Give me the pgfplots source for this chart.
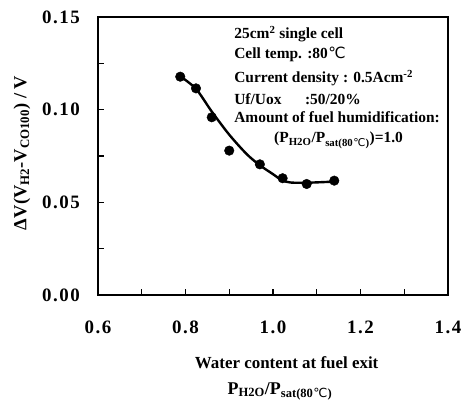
\documentclass[border=0pt]{standalone}
\usepackage{fontspec}
\setmainfont{Liberation Serif}
\newfontfamily\dv{DejaVu Sans}
\newfontfamily\tickfont[LetterSpace=8]{Liberation Serif}
\usepackage{pgfplots}
\pgfplotsset{compat=1.18}
\newcommand{\degC}{{\dv\mdseries\kern0.5pt ℃}}
\begin{document}
\begin{tikzpicture}
\begin{axis}[
  scale only axis, width=350bp, height=278bp,
  xmin=0.6, xmax=1.4, ymin=0, ymax=0.15,
  xtick={0.6,0.8,1.0,1.2,1.4},
  minor xtick={0.7,0.9,1.1,1.3},
  ytick={0,0.05,0.10,0.15},
  minor ytick={0.025,0.075,0.125},
  xtick pos=bottom, ytick pos=left, tick align=inside,
  major tick length=6bp, minor tick length=6bp,
  axis line style={line width=1.5bp},
  every tick/.style={line width=1.2bp, black},
  /pgf/number format/assume math mode=true,
  xticklabel={\pgfmathprintnumber[fixed,fixed zerofill,precision=1]{\tick}},
  yticklabel={\pgfmathprintnumber[fixed,fixed zerofill,precision=2]{\tick}},
  xticklabel style={font=\tickfont\fontsize{19}{19}\selectfont\bfseries, inner sep=0pt, anchor=north, yshift=-26bp},
  yticklabel style={font=\tickfont\fontsize{19}{19}\selectfont\bfseries, inner sep=0pt, anchor=east, xshift=-18bp},
  clip=false,
]
\addplot[smooth, tension=0.5, line width=2.4bp, black] coordinates {
(0.788,0.1180) (0.824,0.1112) (0.860,0.0990) (0.900,0.0865) (0.940,0.0760)
(0.970,0.0700) (1.000,0.0652) (1.020,0.0620) (1.040,0.0607) (1.080,0.0606)
(1.150,0.0613)
};
\addplot[only marks, mark=*, mark size=4.8bp, black] coordinates {
(0.788,0.1178) (0.824,0.1115) (0.860,0.0959) (0.900,0.0779)
(0.970,0.0705) (1.022,0.0630) (1.077,0.0599) (1.140,0.0617)
};
\coordinate (SW) at (rel axis cs:0,0);
% info text
\begin{scope}[every node/.style={font=\fontsize{15.5}{15.5}\selectfont\bfseries, inner sep=0pt, anchor=base west}]
\node at (rel axis cs:0.389,0.921) {25cm\textsuperscript{2} single cell};
\node at (rel axis cs:0.389,0.849) {Cell temp. :80\degC};
\node at (rel axis cs:0.389,0.763) {Current density : 0.5Acm\textsuperscript{-2}};
\node at (rel axis cs:0.389,0.687) {Uf/Uox};
\node at (rel axis cs:0.591,0.687) {:50/20\%};
\node at (rel axis cs:0.389,0.619) {Amount of fuel humidification:};
\node at (rel axis cs:0.503,0.547) {(P\textsubscript{H2O}/P\textsubscript{sat(80\degC)})=1.0};
\end{scope}
% x label
\node[font=\fontsize{17}{17}\selectfont\bfseries, inner sep=0pt, anchor=base] at ([yshift=-73bp]rel axis cs:0.539,0) {Water content at fuel exit};
\node[font=\fontsize{18}{18}\selectfont\bfseries, inner sep=0pt, anchor=base] at ([yshift=-99bp]rel axis cs:0.52,0) {P\textsubscript{H2O}/P\textsubscript{sat(80\degC)}};
% y label
\node[font=\fontsize{18.5}{18.5}\selectfont\bfseries, inner sep=0pt, anchor=center, rotate=90] at ([xshift=-76bp]rel axis cs:0,0.51) {Δ\kern1ptV(V\textsubscript{H2}-V\textsubscript{CO100}) / V};
\end{axis}
\pgfresetboundingbox
\useasboundingbox ([shift={(-98bp,-106bp)}]SW) rectangle ([shift={(363bp,295bp)}]SW);
\end{tikzpicture}
\end{document}
